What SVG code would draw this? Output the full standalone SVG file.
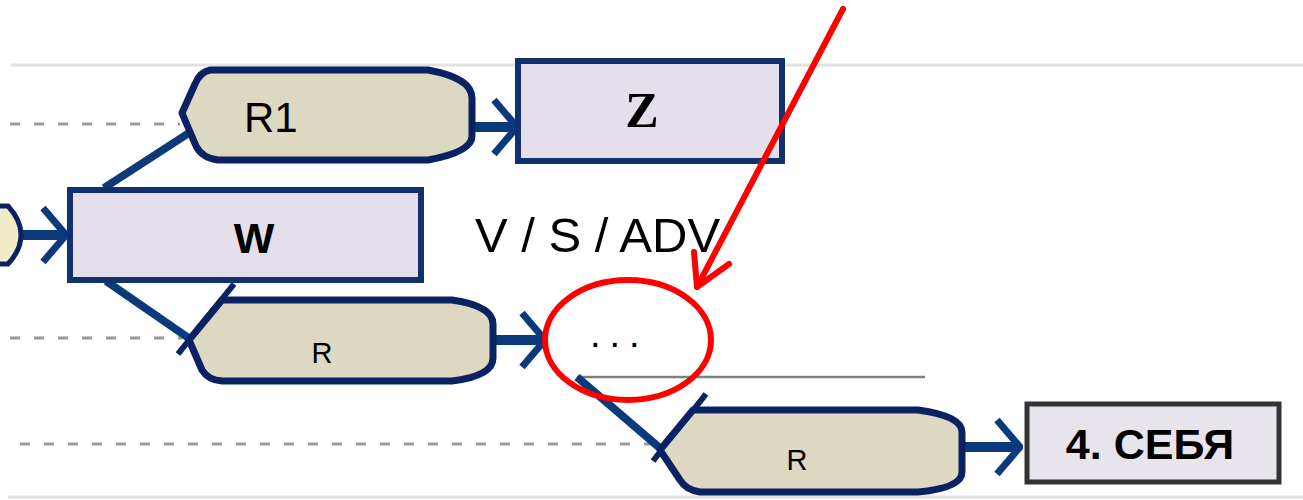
<svg xmlns="http://www.w3.org/2000/svg" width="1303" height="500" viewBox="0 0 1303 500">
<style>
.guide{stroke:#e2e2e2;stroke-width:3;fill:none}
.dash{stroke:#9a9a9a;stroke-width:3;stroke-dasharray:10 14;fill:none}
.conn{stroke:#0b3a7c;stroke-width:8;fill:none;stroke-linecap:butt}
.shaft{stroke:#0b3a7c;stroke-width:10;fill:none}
.oval{fill:#dcd8c1;stroke:#0a2262;stroke-width:7;stroke-linejoin:round}
.box{fill:#e4dfea;stroke:#10306e;stroke-width:6}
.box2{fill:#e8e4ec;stroke:#333;stroke-width:5}
.red{stroke:#ff0000;stroke-width:6;fill:none;stroke-linecap:round;stroke-linejoin:round}
.sans{font-family:"Liberation Sans",Arial,sans-serif;fill:#000}
</style>
<defs>
<marker id="chev" viewBox="0 0 30 60" refX="27" refY="30" markerWidth="30" markerHeight="60" markerUnits="userSpaceOnUse" orient="auto">
<path d="M4,3 L27,30 L4,57" fill="none" stroke="#0b3a7c" stroke-width="7" stroke-linejoin="miter"/>
</marker>
</defs>

<g id="guides">
<line class="guide" x1="11" y1="65" x2="1303" y2="65"/>
<line class="guide" x1="8" y1="497" x2="1303" y2="497"/>
<line class="dash" x1="10" y1="124" x2="180" y2="124"/>
<line class="dash" x1="10" y1="338" x2="182" y2="338"/>
<line class="dash" x1="20" y1="444" x2="650" y2="444"/>
<line x1="577" y1="377" x2="925" y2="377" stroke="#808080" stroke-width="2.5"/>
</g>

<g id="connectors">
<line class="conn" x1="104" y1="188" x2="192" y2="131"/>
<line class="conn" x1="106" y1="281" x2="190" y2="339"/>
<line class="conn" x1="577" y1="377" x2="661" y2="449"/>
<line x1="234" y1="284" x2="178" y2="354" stroke="#0a2262" stroke-width="6"/>
<line x1="706" y1="394" x2="653" y2="461" stroke="#0a2262" stroke-width="6"/>
<line class="shaft" x1="20" y1="235" x2="66" y2="235" marker-end="url(#chev)"/>
<line class="shaft" x1="472" y1="127" x2="517" y2="127" marker-end="url(#chev)"/>
<line class="shaft" x1="494" y1="340" x2="545" y2="340" marker-end="url(#chev)"/>
<line class="shaft" x1="962" y1="447" x2="1020" y2="447" marker-end="url(#chev)"/>
</g>

<g id="node-prev">
<path d="M-5,206 L8,206 Q21,220 21,235 Q21,250 8,264 L-5,264 Z" fill="#f0ecc8" stroke="#0a2262" stroke-width="5"/>
</g>

<g id="node-R1">
<path class="oval" d="M210,70 L428,70 Q472,78 472,98 L472,136 Q472,152 428,160 L218,160 Q202,158 196,146 L182,113 L195,84 Q200,72 210,70 Z"/>
<text class="sans" x="244" y="132" font-size="42">R1</text>
</g>

<g id="node-Z">
<rect class="box" x="518" y="61" width="264" height="100"/>
<text x="642" y="127" font-family="'Liberation Serif','Times New Roman',serif" font-weight="bold" font-size="50" text-anchor="middle">Z</text>
</g>

<g id="node-W">
<rect class="box" x="70" y="190" width="351" height="90"/>
<text class="sans" x="254" y="253" font-size="43" font-weight="bold" text-anchor="middle">W</text>
</g>

<g id="node-R-mid">
<path class="oval" d="M222,300 L452,300 Q493,306 493,324 L493,358 Q493,376 452,381 L222,381 Q208,380 202,370 L189,340 Z"/>
<text class="sans" x="322" y="363" font-size="29" text-anchor="middle">R</text>
</g>

<g id="node-dots">
<text class="sans" x="590" y="347" font-size="38" letter-spacing="9">...</text>
</g>

<g id="node-R-bot">
<path class="oval" d="M693,410 L918,410 Q962,416 962,432 L962,472 Q962,488 918,492 L700,492 Q686,490 680,480 L660,450 Z"/>
<text class="sans" x="797" y="470" font-size="29" text-anchor="middle">R</text>
</g>

<g id="node-sebya">
<rect class="box2" x="1027" y="404" width="252" height="78"/>
<text class="sans" x="1150" y="459" font-size="43" font-weight="bold" text-anchor="middle">4. СЕБЯ</text>
</g>

<g id="label-vsadv">
<text class="sans" x="475" y="252" font-size="49">V / S / ADV</text>
</g>

<g id="annotation">
<ellipse class="red" cx="628" cy="340" rx="83" ry="60"/>
<line class="red" x1="843" y1="9" x2="697" y2="287"/>
<polyline class="red" points="694,252 697,287 729,264"/>
</g>
</svg>
